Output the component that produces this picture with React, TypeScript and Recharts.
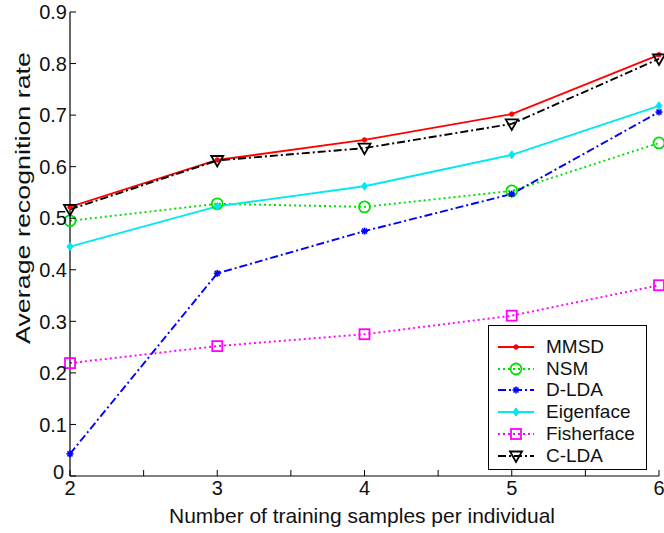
import React from "react";
import { LineChart, Line, XAxis, YAxis } from "recharts";

const xValues = [2, 3, 4, 5, 6];
const mmsd = [0.522, 0.613, 0.652, 0.702, 0.817];
const nsm = [0.495, 0.528, 0.522, 0.553, 0.646];
const dlda = [0.043, 0.393, 0.475, 0.547, 0.706];
const eigenface = [0.445, 0.523, 0.562, 0.623, 0.718];
const fisherface = [0.219, 0.252, 0.275, 0.311, 0.37];
const clda = [0.517, 0.612, 0.636, 0.683, 0.809];

const xTicks = [2, 2.5, 3, 3.5, 4, 4.5, 5, 5.5, 6];
const yTicks = [0, 0.1, 0.2, 0.3, 0.4, 0.5, 0.6, 0.7, 0.8, 0.9];
const yTickLabels = ["0", "0.1", "0.2", "0.3", "0.4", "0.5", "0.6", "0.7", "0.8", "0.9"];

const FONT = "'Liberation Sans', Arial, Helvetica, sans-serif";

const data = xValues.map((x, i) => ({
  x,
  mmsd: mmsd[i],
  nsm: nsm[i],
  dlda: dlda[i],
  eigenface: eigenface[i],
  fisherface: fisherface[i],
  clda: clda[i],
}));

type SeriesDef = {
  key: string;
  name: string;
  color: string;
  dash?: string;
  marker: string;
};

const series: SeriesDef[] = [
  { key: "mmsd", name: "MMSD", color: "#ff0000", marker: "dot" },
  { key: "nsm", name: "NSM", color: "#00e000", dash: "2 3", marker: "circle" },
  { key: "dlda", name: "D-LDA", color: "#0000ff", dash: "8 3 2 3", marker: "star" },
  { key: "eigenface", name: "Eigenface", color: "#00e8f0", marker: "diamond" },
  { key: "fisherface", name: "Fisherface", color: "#ff00ff", dash: "2 3", marker: "square" },
  { key: "clda", name: "C-LDA", color: "#000000", dash: "8 3 2 3", marker: "triangle" },
];

function Marker({ cx, cy, type, color }: { cx: number; cy: number; type: string; color: string }) {
  if (cx == null || cy == null) return null;
  switch (type) {
    case "dot":
      return <circle cx={cx} cy={cy} r={2.2} fill={color} stroke={color} />;
    case "circle":
      return <circle cx={cx} cy={cy} r={5.5} fill="none" stroke={color} strokeWidth={1.8} />;
    case "star":
      return (
        <g stroke={color} strokeWidth={1.6}>
          <line x1={cx - 3.5} y1={cy} x2={cx + 3.5} y2={cy} />
          <line x1={cx} y1={cy - 3.5} x2={cx} y2={cy + 3.5} />
          <line x1={cx - 2.5} y1={cy - 2.5} x2={cx + 2.5} y2={cy + 2.5} />
          <line x1={cx - 2.5} y1={cy + 2.5} x2={cx + 2.5} y2={cy - 2.5} />
        </g>
      );
    case "diamond":
      return (
        <path
          d={`M${cx},${cy - 4} L${cx + 3},${cy} L${cx},${cy + 4} L${cx - 3},${cy} Z`}
          fill={color}
          stroke={color}
          strokeWidth={1}
        />
      );
    case "square":
      return <rect x={cx - 5} y={cy - 5} width={10} height={10} fill="none" stroke={color} strokeWidth={1.8} />;
    case "triangle":
      return (
        <path
          d={`M${cx - 6},${cy - 4.5} L${cx + 6},${cy - 4.5} L${cx},${cy + 6} Z`}
          fill="none"
          stroke={color}
          strokeWidth={1.8}
        />
      );
    default:
      return null;
  }
}

const BottomTick = (props: any) => {
  const { x, y, payload } = props;
  const v = payload.value;
  const isInt = Math.abs(v - Math.round(v)) < 1e-9;
  return (
    <g>
      <line x1={x} y1={y} x2={x} y2={y - 6} stroke="#000" strokeWidth={1} />
      {isInt && (
        <text x={x} y={y + 19} textAnchor="middle" fontSize={20} fontFamily={FONT} fill="#111">
          {String(v)}
        </text>
      )}
    </g>
  );
};

const TopTick = (props: any) => {
  const { x, y } = props;
  return <line x1={x} y1={y} x2={x} y2={y + 6} stroke="#000" strokeWidth={1} />;
};

const LeftTick = (props: any) => {
  const { x, y, payload, index } = props;
  const isZero = index === 0;
  return (
    <g>
      <line x1={x} y1={y} x2={x + 6} y2={y} stroke="#000" strokeWidth={1} />
      <text
        x={isZero ? x - 6 : x - 3}
        y={isZero ? y - 4 : y}
        dy="0.36em"
        textAnchor="end"
        fontSize={20}
        fontFamily={FONT}
        fill="#111"
      >
        {yTickLabels[index] ?? String(payload.value)}
      </text>
    </g>
  );
};

const RightTick = (props: any) => {
  const { x, y } = props;
  return <line x1={x} y1={y} x2={x - 6} y2={y} stroke="#000" strokeWidth={1} />;
};

function LegendSample({ s }: { s: SeriesDef }) {
  return (
    <svg width={40} height={20} style={{ display: "block" }}>
      <line x1={2} y1={10} x2={38} y2={10} stroke={s.color} strokeWidth={1.8} strokeDasharray={s.dash} />
      <Marker cx={20} cy={10} type={s.marker} color={s.color} />
    </svg>
  );
}

export default function App() {
  return (
    <div style={{ position: "absolute", left: 0, top: 0, width: 664, height: 533, background: "#fff" }}>
      <LineChart width={664} height={533} data={data} margin={{ top: 12, right: 5, bottom: 0, left: 0 }}>
        <XAxis
          dataKey="x"
          type="number"
          domain={[2, 6]}
          ticks={xTicks}
          interval={0}
          height={57}
          tickSize={0}
          tickMargin={0}
          tickLine={false}
          axisLine={{ stroke: "#000", strokeWidth: 1.2 }}
          tick={<BottomTick />}
          label={() => (
            <text
              x={362}
              y={523}
              textAnchor="middle"
              fontSize={21}
              fontFamily={FONT}
              fill="#111"
              textLength={386}
              lengthAdjust="spacingAndGlyphs"
            >
              Number of training samples per individual
            </text>
          )}
        />
        <XAxis
          xAxisId="top"
          orientation="top"
          dataKey="x"
          type="number"
          domain={[2, 6]}
          ticks={xTicks}
          interval={0}
          height={0}
          tickSize={0}
          tickMargin={0}
          tickLine={false}
          axisLine={{ stroke: "#000", strokeWidth: 1.2 }}
          tick={<TopTick />}
        />
        <YAxis
          type="number"
          domain={[0, 0.9]}
          ticks={yTicks}
          interval={0}
          width={70}
          tickSize={0}
          tickMargin={0}
          tickLine={false}
          axisLine={{ stroke: "#000", strokeWidth: 1.2 }}
          tick={<LeftTick />}
          label={() => (
            <text
              x={0}
              y={0}
              transform="translate(30,198) rotate(-90)"
              textAnchor="middle"
              fontSize={20}
              fontFamily={FONT}
              fill="#111"
              textLength={292}
              lengthAdjust="spacingAndGlyphs"
            >
              Average recognition rate
            </text>
          )}
        />
        <YAxis
          yAxisId="right"
          orientation="right"
          type="number"
          domain={[0, 0.9]}
          ticks={yTicks}
          interval={0}
          width={0}
          tickSize={0}
          tickMargin={0}
          tickLine={false}
          axisLine={{ stroke: "#000", strokeWidth: 1.2 }}
          tick={<RightTick />}
        />
        {series.map((s) => (
          <Line
            key={s.key}
            dataKey={s.key}
            name={s.name}
            stroke={s.color}
            strokeWidth={1.9}
            strokeDasharray={s.dash}
            isAnimationActive={false}
            dot={(p: any) => <Marker key={`${s.key}-${p.index}`} cx={p.cx} cy={p.cy} type={s.marker} color={s.color} />}
            activeDot={false}
          />
        ))}
      </LineChart>
      <div
        style={{
          position: "absolute",
          left: 488,
          top: 325,
          width: 159,
          height: 145,
          boxSizing: "border-box",
          border: "1.2px solid #000",
          background: "#fff",
          paddingTop: 10,
          fontFamily: FONT,
        }}
      >
        {series.map((s) => (
          <div key={s.key} style={{ display: "flex", alignItems: "center", height: 21.8, paddingLeft: 7 }}>
            <LegendSample s={s} />
            <span style={{ fontSize: 19, color: "#111", marginLeft: 10, lineHeight: "20px" }}>{s.name}</span>
          </div>
        ))}
      </div>
    </div>
  );
}
